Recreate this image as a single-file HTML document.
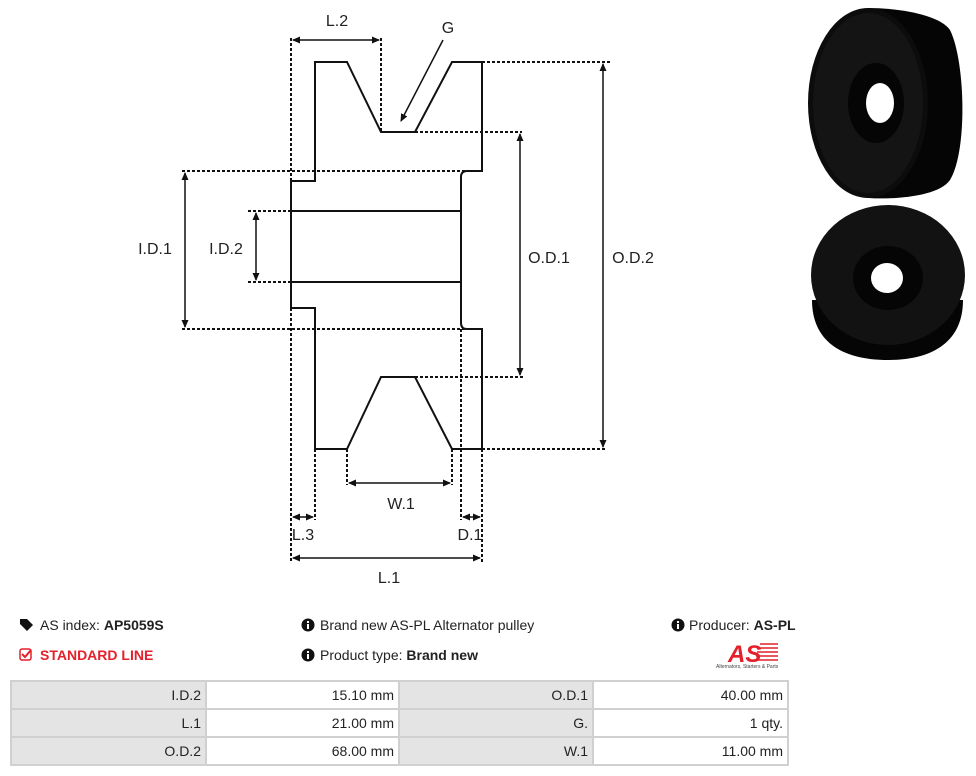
<!DOCTYPE html>
<html><head><meta charset="utf-8"><style>
body{margin:0;width:976px;height:776px;background:#fff;position:relative;overflow:hidden;font-family:"Liberation Sans",sans-serif;color:#222}
svg{position:absolute;left:0;top:0}
.t{position:absolute;font-size:14px;white-space:nowrap}
b{font-weight:bold}
table{position:absolute;left:10px;top:680px;border-collapse:collapse;font-size:14px;table-layout:fixed;width:777px}
tr{height:28px}
td{border:2px solid #d0d0d0;padding:0 4px;text-align:right}
td.g{background:#e4e4e4}
td.w{background:#fff}
</style></head><body>
<svg width="976" height="776" viewBox="0 0 976 776">
<defs><marker id="a" markerWidth="8" markerHeight="8" refX="7" refY="4" orient="auto" markerUnits="userSpaceOnUse"><path d="M0,0.5 L8,4 L0,7.5z" fill="#111"/></marker>
<marker id="b" markerWidth="8" markerHeight="8" refX="1" refY="4" orient="auto" markerUnits="userSpaceOnUse"><path d="M8,0.5 L0,4 L8,7.5z" fill="#111"/></marker></defs>
<g fill="none" stroke="#111" stroke-width="2" stroke-dasharray="3,2">
<path d="M291,38V562 M381,38V132 M482,62H610 M415,132H522 M182,171H482 M248,211H291 M248,282H291 M182,329H466 M415,377H525 M482,449H607 M347,449V485 M452,449V485 M315,449V520 M461,329V520 M482,449V562"/>
</g>
<g fill="none" stroke="#111" stroke-width="2">
<path d="M315,449V308H291V181H315V62H347L381,132H415L452,62H482V171H467Q461,171 461,177V323Q461,329 467,329H482V449H452L415,377H381L347,449Z"/>
<path d="M291,211H461 M291,282H461"/>
</g>
<g stroke="#111" stroke-width="1.5" marker-end="url(#a)" marker-start="url(#b)">
<line x1="293" y1="40" x2="379" y2="40"/>
<line x1="185" y1="173" x2="185" y2="327"/>
<line x1="256" y1="213" x2="256" y2="280"/>
<line x1="520" y1="134" x2="520" y2="375"/>
<line x1="603" y1="64" x2="603" y2="447"/>
<line x1="349" y1="483" x2="450" y2="483"/>
<line x1="293" y1="517" x2="313" y2="517"/>
<line x1="463" y1="517" x2="480" y2="517"/>
<line x1="293" y1="558" x2="480" y2="558"/>
</g>
<line x1="443" y1="40" x2="401" y2="121" stroke="#111" stroke-width="1.5" marker-end="url(#a)"/>
<g font-family="Liberation Sans,sans-serif" font-size="16" fill="#222" text-anchor="middle">
<text x="337" y="26">L.2</text><text x="448" y="33">G</text>
<text x="155" y="254">I.D.1</text><text x="226" y="254">I.D.2</text>
<text x="549" y="263">O.D.1</text><text x="633" y="263">O.D.2</text>
<text x="401" y="509">W.1</text><text x="303" y="540">L.3</text><text x="470" y="540">D.1</text>
<text x="389" y="583">L.1</text>
</g>
<path d="M868,8 C900,8 940,15 950,30 C965,60 968,150 950,180 C940,195 900,200 868,198Z" fill="#050505"/>
<ellipse cx="868" cy="103" rx="60" ry="95" fill="#0c0c0c"/>
<ellipse cx="868" cy="103" rx="55" ry="90" fill="#141414"/>
<ellipse cx="876" cy="103" rx="28" ry="40" fill="#050505"/>
<ellipse cx="880" cy="103" rx="14" ry="20" fill="#fff"/>
<path d="M812,300 C812,340 840,360 888,360 C935,360 963,340 963,300Z" fill="#050505"/>
<ellipse cx="888" cy="275" rx="77" ry="70" fill="#121212"/>
<ellipse cx="888" cy="278" rx="35" ry="32" fill="#050505"/>
<ellipse cx="887" cy="278" rx="16" ry="15" fill="#fff"/>
<text x="728" y="662" font-family="Liberation Sans,sans-serif" font-size="24" font-weight="bold" font-style="italic" fill="#e4202a">AS</text>
<g stroke="#e4202a" stroke-width="1.5"><path d="M760,644H778 M758,648H778 M757,652H778 M756,656H778 M755,660H778"/></g>
<text x="716" y="668" font-family="Liberation Sans,sans-serif" font-size="5" fill="#444">Alternators, Starters &amp; Parts</text>
<path d="M20,619h7l6,6-6,6-7-7z" fill="#111"/>
<circle cx="308" cy="625" r="6.5" fill="#111"/><rect x="307" y="624" width="2" height="5" fill="#fff"/><rect x="307" y="621" width="2" height="2" fill="#fff"/>
<circle cx="308" cy="655" r="6.5" fill="#111"/><rect x="307" y="654" width="2" height="5" fill="#fff"/><rect x="307" y="651" width="2" height="2" fill="#fff"/>
<circle cx="678" cy="625" r="6.5" fill="#111"/><rect x="677" y="624" width="2" height="5" fill="#fff"/><rect x="677" y="621" width="2" height="2" fill="#fff"/>
<rect x="20" y="649" width="11" height="11" rx="2" fill="none" stroke="#e4202a" stroke-width="1.5"/><path d="M22,654l3,3 6,-7" fill="none" stroke="#e4202a" stroke-width="2"/>
</svg>
<div class="t" style="left:40px;top:617px">AS index: <b>AP5059S</b></div>
<div class="t" style="left:40px;top:647px;color:#e4202a;font-weight:bold">STANDARD LINE</div>
<div class="t" style="left:320px;top:617px">Brand new AS-PL Alternator pulley</div>
<div class="t" style="left:320px;top:647px">Product type: <b>Brand new</b></div>
<div class="t" style="left:689px;top:617px">Producer: <b>AS-PL</b></div>
<table>
<colgroup><col style="width:195px"><col style="width:193px"><col style="width:194px"><col style="width:195px"></colgroup>
<tr><td class="g">I.D.2</td><td class="w">15.10 mm</td><td class="g">O.D.1</td><td class="w">40.00 mm</td></tr>
<tr><td class="g">L.1</td><td class="w">21.00 mm</td><td class="g">G.</td><td class="w">1 qty.</td></tr>
<tr><td class="g">O.D.2</td><td class="w">68.00 mm</td><td class="g">W.1</td><td class="w">11.00 mm</td></tr>
</table>
</body></html>
